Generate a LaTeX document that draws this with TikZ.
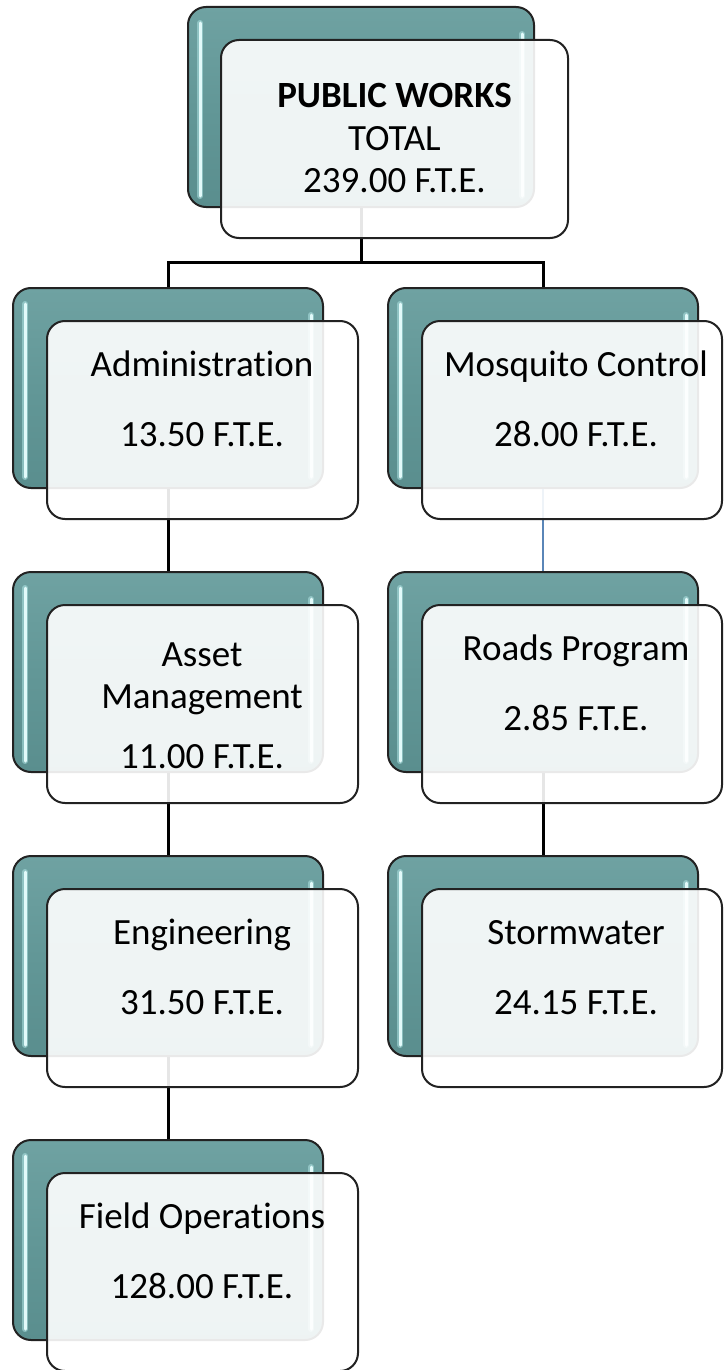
\documentclass[tikz,border=0pt]{standalone}
\usepackage{fontspec}
\setmainfont{Carlito}[Ligatures=NoCommon]
\definecolor{tealTop}{HTML}{6FA2A2}
\definecolor{tealMid}{HTML}{629797}
\definecolor{tealBot}{HTML}{5A8E8E}
\definecolor{edge}{HTML}{222222}
\definecolor{hilite}{HTML}{E2FAFA}
\definecolor{glow}{HTML}{A8DCDC}
\definecolor{linkblue}{HTML}{5A86B8}
\begin{document}
\begin{tikzpicture}[x=1pt,y=-1pt,
  backbox/.style={draw=edge, line width=2pt, rounded corners=18pt, top color=tealTop, bottom color=tealBot, middle color=tealMid, inner sep=0pt, minimum width=310pt, minimum height=200pt},
  frontbox/.style={draw=edge, line width=2pt, rounded corners=18pt, fill=white, fill opacity=0.9, inner sep=0pt, minimum width=311pt, minimum height=198pt},
  glowline/.style={draw=glow, line width=6pt, line cap=round, opacity=0.6},
  hl/.style={draw=hilite, line width=3pt, line cap=round},
  conn/.style={draw=black, line width=3pt},
  connblue/.style={draw=linkblue, line width=1.6pt},
  lbl/.style={font=\fontsize{37}{42}\selectfont, anchor=base, inner sep=0pt, text=black}
]
\useasboundingbox (0,0) rectangle (724,1370);
\fill[white] (0,0) rectangle (724,1370);

% ---------- back boxes ----------
\node[backbox, minimum width=346pt] (topB) at (361,107) {};
\node[backbox] (adminB) at (168,388) {};
\node[backbox] (assetB) at (168,672) {};
\node[backbox] (engB) at (168,956) {};
\node[backbox] (fieldB) at (168,1240) {};
\node[backbox] (mosqB) at (543,388) {};
\node[backbox] (roadsB) at (543,672) {};
\node[backbox] (stormB) at (543,956) {};

% glossy highlights
\foreach \b in {topB,adminB,assetB,engB,fieldB,mosqB,roadsB,stormB}{
  \draw[glowline] ([xshift=13pt,yshift=-17pt]\b.north west) -- ([xshift=13pt,yshift=12pt]\b.south west);
  \draw[hl] ([xshift=13pt,yshift=-17pt]\b.north west) -- ([xshift=13pt,yshift=12pt]\b.south west);
  \draw[glowline] ([xshift=-13pt,yshift=-28pt]\b.north east) -- ([xshift=-13pt,yshift=12pt]\b.south east);
  \draw[hl] ([xshift=-13pt,yshift=-28pt]\b.north east) -- ([xshift=-13pt,yshift=12pt]\b.south east);
}

% ---------- connectors ----------
\coordinate (bus) at (361,262);
\draw[conn] (topB.south) -- (bus);
\draw[conn] ([xshift=1.5pt]bus) -| (adminB.north);
\draw[conn] ([xshift=-1.5pt]bus) -| (mosqB.north);
\draw[conn] (adminB.south) -- (assetB.north);
\draw[conn] (assetB.south) -- (engB.north);
\draw[conn] (engB.south) -- (fieldB.north);
\draw[connblue] (mosqB.south) -- (roadsB.north);
\draw[conn] (roadsB.south) -- (stormB.north);

% ---------- front boxes ----------
\node[frontbox, minimum width=347pt] (topF) at (394.5,139) {};
\node[frontbox] (adminF) at (202.5,420) {};
\node[frontbox] (assetF) at (202.5,704) {};
\node[frontbox] (engF) at (202.5,988) {};
\node[frontbox] (fieldF) at (202.5,1272) {};
\node[frontbox, minimum width=300pt] (mosqF) at (572,420) {};
\node[frontbox, minimum width=300pt] (roadsF) at (572,704) {};
\node[frontbox, minimum width=300pt] (stormF) at (572,988) {};

% ---------- labels ----------
\node[lbl] (topT1) at (394.5,108) {\textbf{PUBLIC WORKS}};
\node[lbl] (topT2) at (394.5,150) {TOTAL};
\node[lbl] (topT3) at (394.5,192) {239.00 F.T.E.};

\node[lbl] (adminT1) at (202,376) {Administration};
\node[lbl] (adminT2) at (202,446) {13.50 F.T.E.};

\node[lbl] (assetT1) at (202,666) {Asset};
\node[lbl] (assetT2) at (202,708) {Management};
\node[lbl] (assetT3) at (202,768) {11.00 F.T.E.};

\node[lbl] (engT1) at (202,944) {Engineering};
\node[lbl] (engT2) at (202,1014) {31.50 F.T.E.};

\node[lbl] (fieldT1) at (202,1228) {Field Operations};
\node[lbl] (fieldT2) at (202,1298) {128.00 F.T.E.};

\node[lbl] (mosqT1) at (576,376) {Mosquito Control};
\node[lbl] (mosqT2) at (576,446) {28.00 F.T.E.};

\node[lbl] (roadsT1) at (576,660) {Roads Program};
\node[lbl] (roadsT2) at (576,730) {2.85 F.T.E.};

\node[lbl] (stormT1) at (576,944) {Stormwater};
\node[lbl] (stormT2) at (576,1014) {24.15 F.T.E.};
\end{tikzpicture}
\end{document}
